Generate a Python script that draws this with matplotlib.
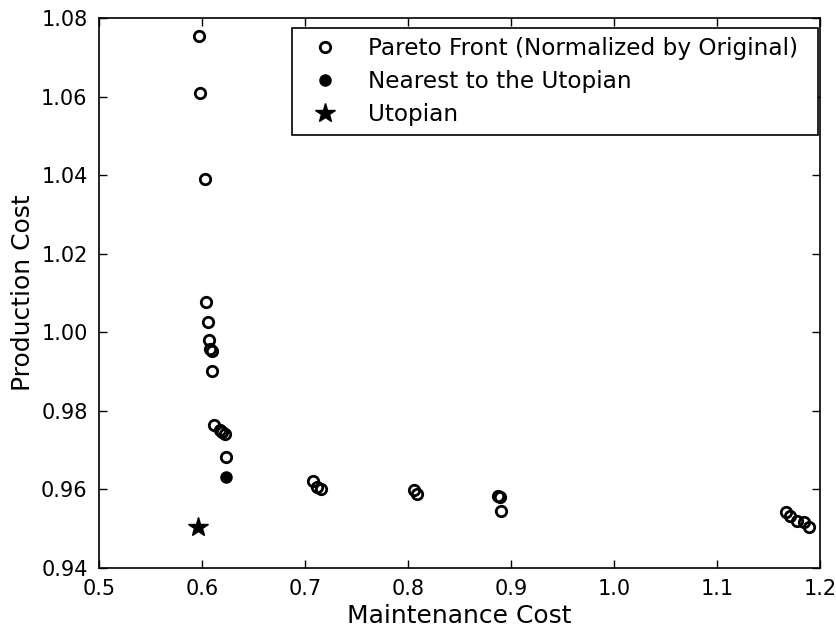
import matplotlib
matplotlib.use("Agg")
import matplotlib.pyplot as plt

# Pareto front points (normalized by original)
pareto_maint = [0.597, 0.598, 0.603, 0.604, 0.606, 0.607, 0.608, 0.610, 0.610,
                0.612, 0.618, 0.620, 0.622, 0.623,
                0.708, 0.712, 0.716,
                0.806, 0.809,
                0.887, 0.889, 0.890,
                1.167, 1.171, 1.177, 1.184, 1.189]
pareto_prod = [1.0755, 1.0610, 1.0390, 1.0076, 1.0025, 0.9980, 0.9957, 0.9952, 0.9902,
               0.9763, 0.9750, 0.9745, 0.9740, 0.9682,
               0.9621, 0.9605, 0.9600,
               0.9597, 0.9587,
               0.9583, 0.9581, 0.9545,
               0.9543, 0.9532, 0.9518, 0.9516, 0.9503]

nearest_maint = [0.623]
nearest_prod = [0.9630]

utopian_maint = [0.596]
utopian_prod = [0.9503]

fig = plt.figure(figsize=(8.37, 6.43), dpi=100)
ax = fig.add_axes([0.118, 0.117, 0.862, 0.855])

ax.plot(pareto_maint, pareto_prod, linestyle='none', marker='o', markersize=7.5,
        markerfacecolor='none', markeredgecolor='black', markeredgewidth=2,
        label='Pareto Front (Normalized by Original)')
ax.plot(nearest_maint, nearest_prod, linestyle='none', marker='o', markersize=8,
        markerfacecolor='black', markeredgecolor='black',
        label='Nearest to the Utopian')
ax.plot(utopian_maint, utopian_prod, linestyle='none', marker='*', markersize=15,
        markerfacecolor='black', markeredgecolor='black',
        label='Utopian')

ax.set_xlim(0.5, 1.2)
ax.set_ylim(0.94, 1.08)
ax.set_xticks([0.5, 0.6, 0.7, 0.8, 0.9, 1.0, 1.1, 1.2])
ax.set_xticklabels(['0.5', '0.6', '0.7', '0.8', '0.9', '1.0', '1.1', '1.2'])
ax.set_yticks([0.94, 0.96, 0.98, 1.00, 1.02, 1.04, 1.06, 1.08])
ax.set_yticklabels(['0.94', '0.96', '0.98', '1.00', '1.02', '1.04', '1.06', '1.08'])
ax.tick_params(direction='in', top=True, right=True, length=6, width=1, labelsize=15, pad=8)
for s in ax.spines.values():
    s.set_linewidth(1.2)

ax.set_xlabel('Maintenance Cost', fontsize=18)
ax.set_ylabel('Production Cost', fontsize=18)

leg = ax.legend(loc='upper right', bbox_to_anchor=(0.268, 0.5, 0.729, 0.482),
                mode='expand', numpoints=1,
                fontsize=16.7, fancybox=False, framealpha=1, edgecolor='black',
                borderaxespad=0, borderpad=0.4, handlelength=2.0,
                handletextpad=0.85, labelspacing=0.43)
leg.get_frame().set_linewidth(1.2)

fig.savefig('out.png', dpi=100, facecolor='white')
